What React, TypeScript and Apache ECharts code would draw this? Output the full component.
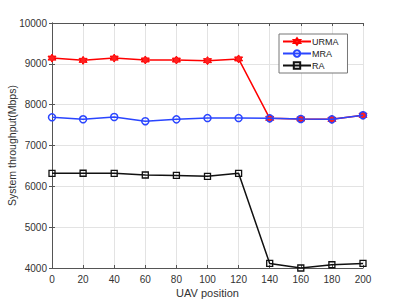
import React, { useEffect, useRef } from "react";
import * as echarts from "echarts";

const positions = [0, 20, 40, 60, 80, 100, 120, 140, 160, 180, 200];
const urma = [9140, 9085, 9140, 9095, 9092, 9078, 9120, 7665, 7650, 7640, 7740];
const mra = [7690, 7642, 7698, 7595, 7640, 7672, 7672, 7665, 7650, 7640, 7740];
const ra = [6318, 6320, 6318, 6277, 6268, 6245, 6318, 4112, 4000, 4080, 4112];

const star =
  "path://M0,-10 L2.9,-5 L8.66,-5 L5.8,0 L8.66,5 L2.9,5 L0,10 L-2.9,5 L-8.66,5 L-5.8,0 L-8.66,-5 L-2.9,-5 Z";

export default function App() {
  const ref = useRef<HTMLDivElement>(null);
  useEffect(() => {
    const chart = echarts.init(ref.current!, null, { renderer: "svg" });
    const font = "'Liberation Sans', Arial, sans-serif";
    const axisLine = { lineStyle: { color: "#555", width: 1 } };
    const mk = (v: number[]) => positions.map((p, i) => [p, v[i]]);
    chart.setOption({
      animation: false,
      backgroundColor: "#fff",
      textStyle: { fontFamily: font },
      grid: { left: 52, right: 39, top: 23, bottom: 34, containLabel: false, outerBoundsMode: "none" },
      legend: {
        orient: "vertical",
        left: 279,
        top: 34,
        itemWidth: 28,
        itemHeight: 8,
        itemGap: 3,
        padding: [3, 9, 3, 3],
        borderColor: "#777",
        borderWidth: 1,
        borderRadius: 0,
        backgroundColor: "#fff",
        textStyle: { fontSize: 9, color: "#222", padding: [0, 0, 0, -4] },
        data: ["URMA", "MRA", "RA"],
      },
      xAxis: [
        {
          type: "value",
          min: 0,
          max: 200,
          interval: 20,
          name: "UAV position",
          nameLocation: "middle",
          nameGap: 19,
          nameMoveOverlap: false,
          nameTextStyle: { fontSize: 11, color: "#333" },
          axisLine,
          axisTick: { inside: true, length: 3, lineStyle: { color: "#555" } },
          axisLabel: { fontSize: 10, color: "#333", margin: 6 },
          splitLine: { lineStyle: { color: "#e3e3e3" } },
        },
        {
          type: "value",
          position: "top",
          min: 0,
          max: 200,
          interval: 20,
          axisLine,
          axisTick: { inside: true, length: 3, lineStyle: { color: "#555" } },
          axisLabel: { show: false },
          splitLine: { show: false },
        },
      ],
      yAxis: [
        {
          type: "value",
          min: 4000,
          max: 10000,
          interval: 1000,
          name: "System throughput(Mbps)",
          nameLocation: "middle",
          nameGap: 35,
          nameMoveOverlap: false,
          nameTextStyle: { fontSize: 10.5, color: "#333" },
          axisLine: { show: true, ...axisLine },
          axisTick: { show: true, inside: true, length: 3, lineStyle: { color: "#555" } },
          axisLabel: { fontSize: 10, color: "#333", margin: 5, formatter: (v: number) => String(v) },
          splitLine: { lineStyle: { color: "#e3e3e3" } },
        },
        {
          type: "value",
          position: "right",
          min: 4000,
          max: 10000,
          interval: 1000,
          axisLine: { show: true, ...axisLine },
          axisTick: { show: true, inside: true, length: 3, lineStyle: { color: "#555" } },
          axisLabel: { show: false },
          splitLine: { show: false },
        },
      ],
      series: [
        {
          name: "URMA",
          type: "line",
          data: mk(urma),
          symbol: star,
          symbolSize: 8,
          color: "#ff0000",
          lineStyle: { width: 1.5, color: "#ff0000" },
          itemStyle: { color: "#ff2020", borderColor: "#ff0000", borderWidth: 1 },
          z: 3,
        },
        {
          name: "MRA",
          type: "line",
          data: mk(mra),
          symbol: "circle",
          symbolSize: 7,
          color: "#2040ff",
          lineStyle: { width: 1.5, color: "#2a45ff" },
          itemStyle: { color: "transparent", borderColor: "#2a45ff", borderWidth: 1.5 },
          z: 4,
        },
        {
          name: "RA",
          type: "line",
          data: mk(ra),
          symbol: "rect",
          symbolSize: 6,
          color: "#000",
          lineStyle: { width: 1.5, color: "#111" },
          itemStyle: { color: "transparent", borderColor: "#111", borderWidth: 1.3 },
          z: 3,
        },
      ],
    });
    return () => chart.dispose();
  }, []);
  return <div ref={ref} style={{ width: 402, height: 302, position: "absolute", left: 0, top: 0 }} />;
}
